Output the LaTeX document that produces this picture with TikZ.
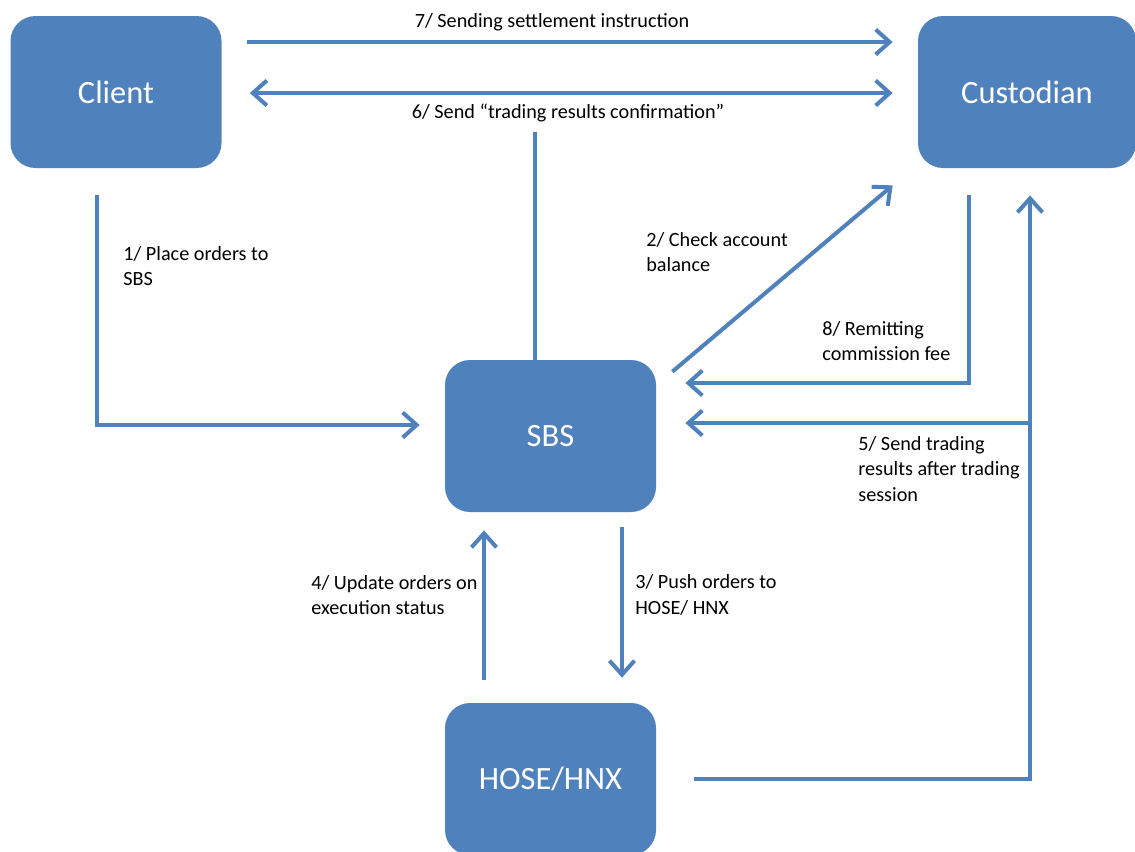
\documentclass[tikz,border=0pt]{standalone}
\usepackage{fontspec}
\setmainfont{Carlito}
\definecolor{officeblue}{RGB}{79, 129, 189}
\usetikzlibrary{arrows.meta, positioning, calc}

\begin{document}
\begin{tikzpicture}[
  party/.style={draw=none, fill=officeblue, rounded corners=0.5cm, minimum width=4.22cm, minimum height=3.04cm, text=white, font=\fontsize{18.5}{22}\selectfont},
  flow/.style={draw=officeblue, line width=0.08cm, -{Straight Barb[length=0.28cm, width=0.5cm]}},
  both/.style={flow, {Straight Barb[length=0.28cm, width=0.5cm]}-{Straight Barb[length=0.28cm, width=0.5cm]}},
  wire/.style={draw=officeblue, line width=0.08cm},
  lbl/.style={align=left, anchor=west, inner sep=0pt, font=\fontsize{11.5}{14.7}\selectfont}
]
  \useasboundingbox (0,0) rectangle (22.7,-17.02);

  \node[party] (client) at (2.32, -1.84) {Client};
  \node[party, minimum width=4.36cm] (custodian) at (20.54, -1.84) {Custodian};
  \node[party] (sbs) at (11.01, -8.72) {SBS};
  \node[party] (hose) at (11.01, -15.58) {HOSE/HNX};

  % top row
  \draw[flow, shorten <=0.5cm, shorten >=0.5cm] ([yshift=1.0cm]client.east) -- ([yshift=1.0cm]custodian.west);
  \node[lbl, anchor=center] (l7) at (11.04, -0.44) {7/ Sending settlement instruction};
  \draw[both, shorten <=0.56cm, shorten >=0.5cm] ([yshift=-0.02cm]client.east) -- ([yshift=-0.02cm]custodian.west);
  \node[lbl, anchor=center] (l6) at (11.36, -2.26) {6/ Send “trading results confirmation”};
  \draw[wire] ([xshift=-0.31cm]sbs.north) -- ([xshift=-0.31cm, yshift=-0.2cm]sbs.north |- l6.south);

  % client -> sbs
  \draw[flow] ([xshift=-0.38cm, yshift=-0.54cm]client.south) |- ([xshift=-0.5cm, yshift=0.22cm]sbs.west);
  \node[lbl] (l1) at (2.46, -5.32) {1/ Place orders to\\SBS};

  % sbs <-> custodian
  \draw[flow] ([xshift=0.32cm, yshift=-0.24cm]sbs.north east) -- ([xshift=-0.5cm, yshift=-0.34cm]custodian.south west);
  \node[lbl] (l2) at (12.92, -5.04) {2/ Check account\\balance};
  \draw[flow] ([xshift=-1.16cm, yshift=-0.54cm]custodian.south) |- ([xshift=0.58cm, yshift=1.06cm]sbs.east);
  \node[lbl] (l8) at (16.44, -6.82) {8/ Remitting\\commission fee};

  % hose -> custodian and sbs
  \coordinate (up5) at ([xshift=0.06cm, yshift=-0.54cm]custodian.south);
  \coordinate (tip5) at ([xshift=0.58cm, yshift=0.26cm]sbs.east);
  \draw[flow] ([xshift=0.76cm]hose.east) -| (up5);
  \draw[flow] (up5 |- tip5) -- (tip5);
  \node[lbl] (l5) at (17.16, -9.38) {5/ Send trading\\results after trading\\session};

  % sbs <-> hose
  \draw[flow] ([xshift=1.43cm, yshift=-0.3cm]sbs.south) -- ([xshift=1.43cm, yshift=0.5cm]hose.north);
  \node[lbl] (l3) at (12.70, -11.9) {3/ Push orders to\\HOSE/ HNX};
  \draw[flow] ([xshift=-1.33cm, yshift=0.46cm]hose.north) -- ([xshift=-1.33cm, yshift=-0.36cm]sbs.south);
  \node[lbl] (l4) at (6.22, -11.9) {4/ Update orders on\\execution status};
\end{tikzpicture}
\end{document}
